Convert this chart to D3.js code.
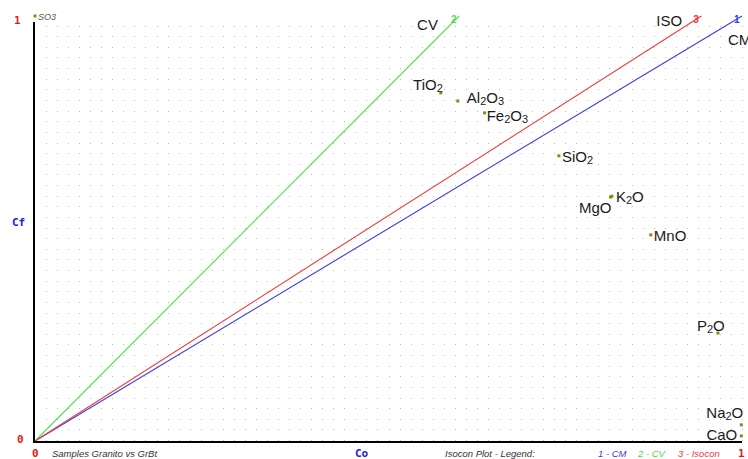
<!DOCTYPE html>
<html><head><meta charset="utf-8">
<script src="https://cdn.jsdelivr.net/npm/d3@7"></script>
<style>body{margin:0;background:#fff;}svg{display:block;}</style>
</head><body>
<script>
// ---- data ----
const oxides = ["SO3","TiO2","Al2O3","Fe2O3","SiO2","K2O","MgO","MnO","P2O","Na2O","CaO"];
const coValues = [0.0, 0.574, 0.598, 0.636, 0.741, 0.816, 0.814, 0.871, 0.966, 0.999, 0.999];
const cfValues = [1.0, 0.819, 0.800, 0.772, 0.671, 0.576, 0.574, 0.485, 0.254, 0.038, 0.012];
const lineIds = ["1","2","3"];
const lineNames = ["CM","CV","ISO"];
const lineSlopes = [1.0, 1.667, 1.061];
const legendLabels = ["1 - CM","2 - CV","3 - Isocon"];
const axisTicks = ["0","1"];

// ---- layout / style ----
const W = 748, H = 459;
const lineColors = ["#3a3af0","#55dd55","#f03a3a"];
const labelPlace = {
  SO3:{dx:3,dy:4,anchor:"start"}, TiO2:{dx:2,dy:-3,anchor:"end"}, Al2O3:{dx:9,dy:2,anchor:"start"},
  Fe2O3:{dx:2,dy:8,anchor:"start"}, SiO2:{dx:3,dy:6,anchor:"start"}, K2O:{dx:4,dy:6,anchor:"start"},
  MgO:{dx:1,dy:16,anchor:"end"}, MnO:{dx:3,dy:6,anchor:"start"}, P2O:{dx:-21,dy:-2,anchor:"start"},
  Na2O:{dx:2,dy:-7,anchor:"end"}, CaO:{dx:-4,dy:4,anchor:"end"}
};
const lineLabelPlace = [{dx:-14,dy:29},{dx:-42,dy:14},{dx:-45,dy:10}];

const svg = d3.select("body").append("svg").attr("width",W).attr("height",H);
const x = d3.scaleLinear().domain([0,1]).range([35,742]);
const y = d3.scaleLinear().domain([0,1]).range([441,16]);

// grid dots
const gx = d3.range(1,65).map(i=>i/64);
const gy = d3.range(0,40).map(j=>j/40);
const grid = svg.append("g").attr("fill","#bdbdbd");
gx.forEach(a=>gy.forEach(b=>{
  grid.append("rect").attr("x",Math.round(x(a))).attr("y",Math.round(y(b))-1).attr("width",1).attr("height",1);
}));

// lines
lineSlopes.forEach((s,i)=>{
  const xe = Math.min(1,1/s), ye = s*xe;
  svg.append("line").attr("x1",x(0)).attr("y1",y(0)).attr("x2",x(xe)).attr("y2",y(ye))
    .attr("stroke",lineColors[i]).attr("stroke-width",1.1);
  svg.append("text").attr("x",x(xe)-8).attr("y",y(ye)+7)
    .attr("font-family","Liberation Sans, Arial, sans-serif").attr("font-weight","bold").attr("font-size",10)
    .attr("fill",lineColors[i]).text(lineIds[i]);
  svg.append("text").attr("x",x(xe)+lineLabelPlace[i].dx).attr("y",y(ye)+lineLabelPlace[i].dy)
    .attr("font-family","Liberation Sans, Arial, sans-serif").attr("font-size",15)
    .attr("fill","#1a1a1a").text(lineNames[i]);
});

// axes
svg.append("line").attr("x1",x(0)-1).attr("x2",x(0)-1).attr("y1",22).attr("y2",y(0)+1)
  .attr("stroke","#000").attr("stroke-width",2);
svg.append("line").attr("x1",x(0)-2).attr("x2",x(1)).attr("y1",y(0)+1).attr("y2",y(0)+1)
  .attr("stroke","#000").attr("stroke-width",2);

// points
oxides.forEach((name,i)=>{
  const px = x(coValues[i]), py = y(cfValues[i]);
  svg.append("rect").attr("x",px-1.5).attr("y",py-1.5).attr("width",3).attr("height",3).attr("fill","#8a8a10");
  const p = labelPlace[name];
  if(name==="SO3"){
    svg.append("text").attr("x",px+p.dx).attr("y",py+p.dy)
      .attr("font-family","Liberation Sans, Arial, sans-serif").attr("font-style","italic").attr("font-size",9)
      .attr("fill","#555").attr("text-anchor",p.anchor).text(name);
    return;
  }
  const t = svg.append("text").attr("x",px+p.dx).attr("y",py+p.dy)
    .attr("font-family","Liberation Sans, Arial, sans-serif").attr("font-size",15)
    .attr("fill","#1a1a1a").attr("text-anchor",p.anchor);
  const parts = name.match(/[A-Za-z]+|\d+/g);
  let shifted = false;
  parts.forEach(part=>{
    if(/\d/.test(part)){
      t.append("tspan").attr("font-size",11).attr("dy",shifted?0:2).text(part); shifted=true;
    } else {
      t.append("tspan").attr("dy",shifted?-2:0).text(part); shifted=false;
    }
  });
});

// axis tick labels
const tickFont = "DejaVu Sans Mono, monospace";
svg.append("text").attr("x",14).attr("y",24).attr("font-family",tickFont).attr("font-weight","bold")
  .attr("font-size",11).attr("fill","#e81818").text(axisTicks[1]);
svg.append("text").attr("x",17).attr("y",443).attr("font-family",tickFont).attr("font-weight","bold")
  .attr("font-size",11).attr("fill","#e81818").text(axisTicks[0]);
svg.append("text").attr("x",x(0)-3).attr("y",457).attr("font-family",tickFont).attr("font-weight","bold")
  .attr("font-size",11).attr("fill","#e81818").text(axisTicks[0]);
svg.append("text").attr("x",x(1)-4).attr("y",457).attr("font-family",tickFont).attr("font-weight","bold")
  .attr("font-size",11).attr("fill","#e81818").text(axisTicks[1]);

// axis titles
svg.append("text").attr("x",12).attr("y",226).attr("font-family",tickFont).attr("font-weight","bold")
  .attr("font-size",11).attr("fill","#2020e0").text("Cf");
svg.append("text").attr("x",355).attr("y",457).attr("font-family",tickFont).attr("font-weight","bold")
  .attr("font-size",11).attr("fill","#2020e0").text("Co");

// footer texts
const foot = (tx,xx,col)=>svg.append("text").attr("x",xx).attr("y",457)
  .attr("font-family","Liberation Sans, Arial, sans-serif").attr("font-style","italic")
  .attr("font-size",9.5).attr("fill",col).text(tx);
foot("Samples Granito vs GrBt",52,"#333");
foot("Isocon Plot - Legend:",445,"#333");
foot(legendLabels[0],598,lineColors[0]);
foot(legendLabels[1],638,"#44dd44");
foot(legendLabels[2],678,lineColors[2]);
</script>
</body></html>
